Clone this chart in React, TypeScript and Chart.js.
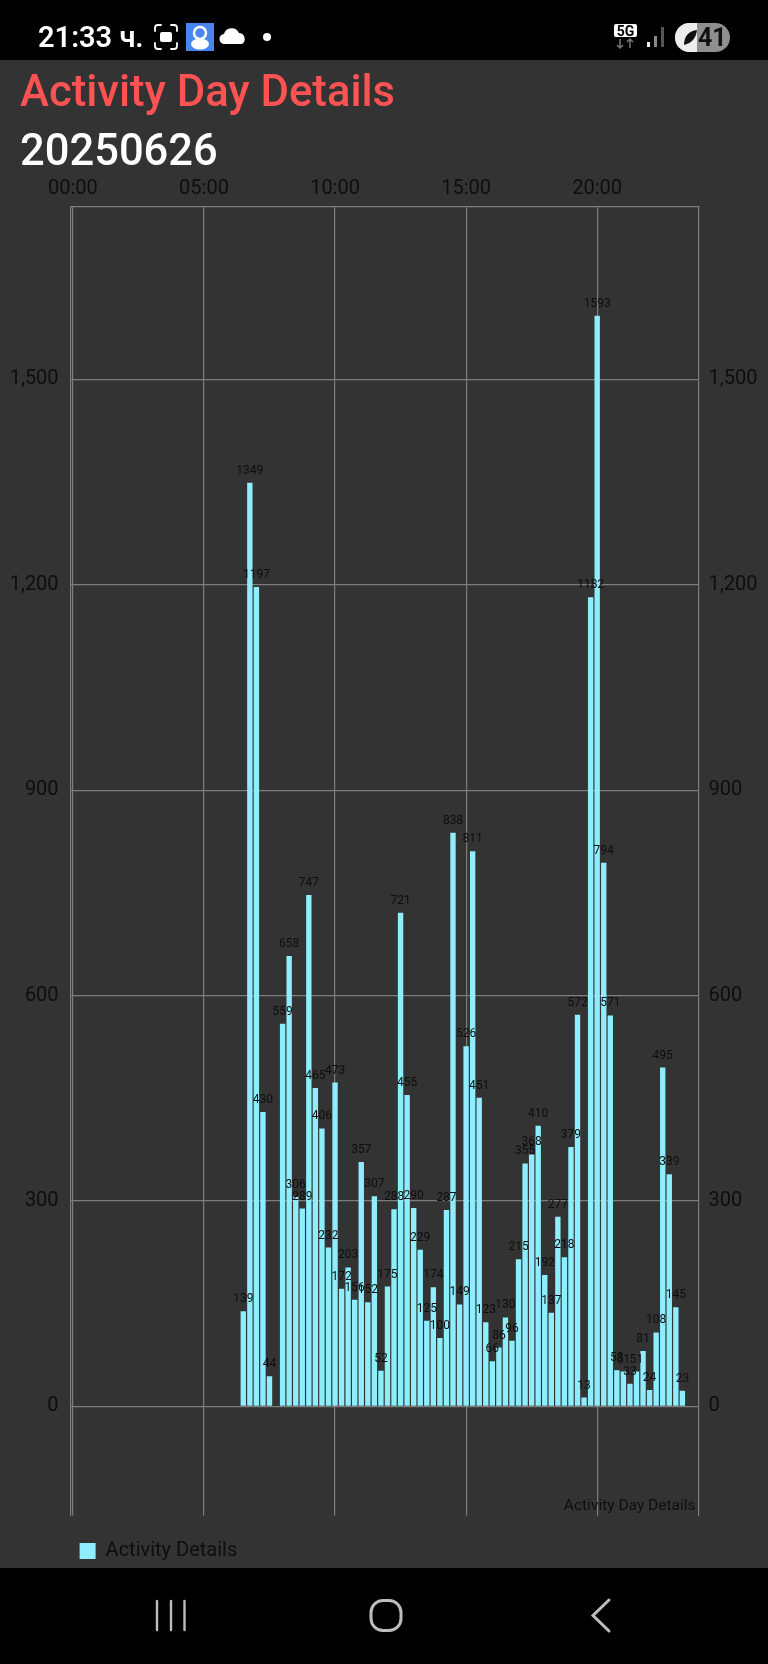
import React, { useEffect, useRef } from "react";
import { Chart, registerables } from "chart.js";

Chart.register(...registerables);

const PAGE_TITLE = "Activity Day Details";
const PAGE_DATE = "20250626";
const SERIES_NAME = "Activity Details";

// 15-minute slots of the day (0 = 00:00)
const slots = [
  26, 27, 28, 29, 30, 32, 33, 34, 35, 36, 37, 38, 39, 40, 41, 42, 43, 44, 45, 46, 47, 48, 49, 50,
  51, 52, 53, 54, 55, 56, 57, 58, 59, 60, 61, 62, 63, 64, 65, 66, 67, 68, 69, 70, 71, 72, 73, 74,
  75, 76, 77, 78, 79, 80, 81, 82, 83, 84, 85, 86, 87, 88, 89, 90, 91, 92, 93,
];
const values = [
  139, 1349, 1197, 430, 44, 559, 658, 306, 289, 747, 465, 406, 232, 473, 172, 203, 156, 357, 152,
  307, 52, 175, 288, 721, 455, 290, 229, 125, 174, 100, 287, 838, 149, 526, 811, 451, 123, 66, 86,
  130, 96, 215, 355, 368, 410, 192, 137, 277, 218, 379, 572, 13, 1182, 1593, 794, 571, 53, 51, 33,
  51, 81, 24, 108, 495, 339, 145, 23,
];
const xTickLabels = ["00:00", "05:00", "10:00", "15:00", "20:00"];

const BG = "#333333";
const BAR = "#8eeeff";
const GRID = "#7d7d7d";
const INK = "#0e0e0e";
const FONT = "Roboto, sans-serif";

const barLabels = {
  id: "barLabels",
  afterDatasetsDraw(chart: any) {
    const { ctx } = chart;
    const meta = chart.getDatasetMeta(0);
    ctx.save();
    ctx.font = `12px ${FONT}`;
    ctx.fillStyle = INK;
    ctx.textAlign = "center";
    ctx.textBaseline = "alphabetic";
    meta.data.forEach((el: any, i: number) => {
      ctx.fillText(String(values[i]), el.x, el.y - 9);
    });
    ctx.restore();
  },
};

const description = {
  id: "description",
  afterDraw(chart: any) {
    const { ctx, chartArea } = chart;
    ctx.save();
    ctx.font = `15.5px ${FONT}`;
    ctx.fillStyle = INK;
    ctx.textAlign = "right";
    ctx.textBaseline = "alphabetic";
    ctx.fillText(PAGE_TITLE, chartArea.right - 3, chartArea.bottom - 5.5);
    ctx.restore();
  },
};

// keep the right axis on the very same pixels as the left one
const alignAxes = {
  id: "alignAxes",
  afterLayout(chart: any) {
    const a = chart.scales.y;
    const b = chart.scales.y2;
    b.top = a.top;
    b.bottom = a.bottom;
    b.height = a.height;
    b.configure();
    b._labelItems = null;
  },
};

export default function App() {
  const ref = useRef<HTMLCanvasElement>(null);
  useEffect(() => {
    document.body.style.margin = "0";
    document.body.style.background = "#000";
    document.body.style.overflow = "hidden";
    const chart = new Chart(ref.current as HTMLCanvasElement, {
      type: "bar",
      data: {
        datasets: [
          {
            label: SERIES_NAME,
            data: values.map((v, i) => ({ x: slots[i], y: v })),
            backgroundColor: BAR,
            borderWidth: 0,
            categoryPercentage: 1,
            barPercentage: 0.82,
            xAxisID: "x",
            yAxisID: "y",
          },
        ],
      },
      plugins: [barLabels, description, alignAxes],
      options: {
        animation: false,
        responsive: false,
        locale: "en-US",
        devicePixelRatio: 1,
        layout: { padding: { top: 0, left: 0, right: 0, bottom: 7 } },
        plugins: {
          tooltip: { enabled: false },
          title: { display: false },
          legend: {
            display: true,
            position: "bottom",
            align: "start",
            fullSize: false,
            title: { display: true, text: "", font: { size: 10 }, padding: { top: 0, bottom: 4.5 } },
            labels: {
              boxWidth: 16,
              boxHeight: 16,
              padding: 9,
              color: INK,
              font: { family: FONT, size: 20 },
            },
          },
        },
        scales: {
          x: {
            type: "linear",
            position: "top",
            min: -0.35,
            max: 95.46,
            offset: false,
            grid: { color: GRID, lineWidth: 1.2, drawTicks: false, offset: false },
            border: { display: true, color: GRID, width: 1.2 },
            afterFit: (s: any) => {
              s.height = 146.7;
            },
            ticks: {
              stepSize: 20,
              includeBounds: false,
              autoSkip: false,
              maxRotation: 0,
              padding: 6,
              color: INK,
              font: { family: FONT, size: 20 },
              callback: (v: any) => xTickLabels[Number(v) / 20] ?? "",
            },
          },
          y: {
            type: "linear",
            position: "left",
            min: -159.3,
            max: 1752.3,
            grid: { color: GRID, lineWidth: 1.2, drawTicks: false },
            border: { display: true, color: GRID, width: 1.2 },
            afterFit: (s: any) => {
              s.width = 70.6;
            },
            ticks: {
              stepSize: 300,
              includeBounds: false,
              padding: 12,
              color: INK,
              font: { family: FONT, size: 20 },
            },
          },
          y2: {
            type: "linear",
            position: "right",
            min: -159.3,
            max: 1752.3,
            grid: { display: false, drawTicks: false },
            border: { display: true, color: GRID, width: 1.2 },
            afterFit: (s: any) => {
              s.width = 69.5;
            },
            ticks: {
              stepSize: 300,
              includeBounds: false,
              padding: 10,
              color: INK,
              font: { family: FONT, size: 20 },
            },
          },
        },
      },
    } as any);
    return () => chart.destroy();
  }, []);

  return (
    <div style={{ position: "absolute", left: 0, top: 0, width: 768, height: 1664, background: "#000", overflow: "hidden" }}>
      <div style={{ position: "absolute", left: 0, top: 60, width: 768, height: 1508, background: BG }}>
        <canvas ref={ref} width={768} height={1518} style={{ display: "block", width: 768, height: 1518 }} />
      </div>
      <svg width={768} height={1664} style={{ position: "absolute", left: 0, top: 0, pointerEvents: "none" }}>
        <rect x={0} y={1568} width={768} height={96} fill="#000" />
        {/* page heading */}
        <text x={20} y={106} fontFamily={FONT} fontWeight={500} fontSize={43.6} fill="#ff5252">{PAGE_TITLE}</text>
        <text x={20} y={165} fontFamily={FONT} fontWeight={500} fontSize={43.5} fill="#ffffff">{PAGE_DATE}</text>

        {/* status bar */}
        <text x={38} y={47} fontFamily={FONT} fontWeight={600} fontSize={29} fill="#fff">21:33 ч.</text>
        <g fill="none" stroke="#fff" strokeWidth={1.8} strokeLinecap="round">
          <path d="M155 31v-3a3 3 0 0 1 3-3h3M171 25h3a3 3 0 0 1 3 3v3M177 43v3a3 3 0 0 1-3 3h-3M161 49h-3a3 3 0 0 1-3-3v-3" />
        </g>
        <rect x={160} y={32} width={12} height={10} rx={2} fill="#fff" />
        <rect x={186} y={23} width={28} height={28} fill="#4a86f0" />
        <circle cx={200} cy={33} r={6} fill="none" stroke="#fff" strokeWidth={2.5} />
        <ellipse cx={200} cy={44} rx={9} ry={5.5} fill="#fff" />
        <path d="M225 44a5 5 0 0 1-1-10 8 8 0 0 1 15-1 6 6 0 0 1 3 11z" fill="#fff" />
        <circle cx={267} cy={37} r={4} fill="#fff" />

        <rect x={614} y={24} width={23} height={13} rx={2} fill="#fff" />
        <text x={625.5} y={35.5} textAnchor="middle" fontFamily={FONT} fontWeight={700} fontSize={14} fill="#000">5G</text>
        <path d="M620 39v9M617 45l3 3 3-3M630 48v-9M627 42l3-3 3 3" fill="none" stroke="#777" strokeWidth={1.5} />
        <rect x={647} y={42} width={3} height={5} fill="#eee" />
        <rect x={654} y={36} width={3} height={11} fill="#888" />
        <rect x={661} y={27} width={3} height={20} fill="#555" />
        <rect x={675} y={23} width={55} height={29} rx={14.5} fill="#8f8f8f" />
        <path d="M697 23h-7.5a14.5 14.5 0 0 0 0 29h7.5z" fill="#ededed" />
        <path d="M684 45c0-9 5-14 13-15-1 8-5 13-13 15z" fill="#111" />
        <text x={698} y={46} fontFamily={FONT} fontWeight={700} fontSize={25} fill="#111">41</text>

        {/* navigation bar */}
        <g stroke="#bdbdbd" strokeWidth={2.4} fill="none" strokeLinecap="round">
          <path d="M157 1601v29M171 1601v29M184.500 1601v29" />
          <rect x={371} y={1600.500} width={30} height={30} rx={12} strokeWidth={3} />
          <path d="M609 1600l-16 15.500 16 15.500" strokeWidth={3} />
        </g>
      </svg>
    </div>
  );
}
